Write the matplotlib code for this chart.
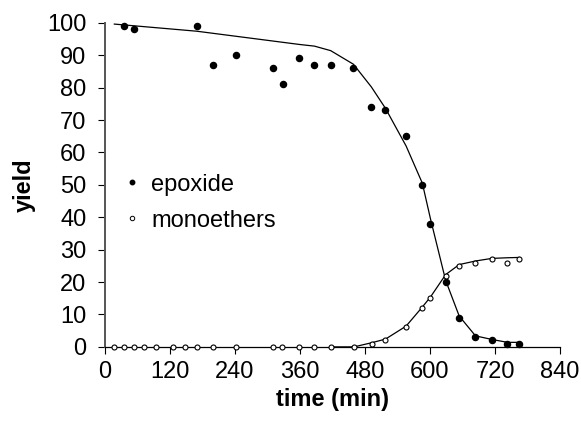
import matplotlib
matplotlib.use("Agg")
import matplotlib.pyplot as plt
from matplotlib.lines import Line2D

plt.rcParams['font.family'] = ['Liberation Sans', 'DejaVu Sans']

# measured data
epox_t = [36, 54, 170, 200, 243, 310, 329, 358, 387, 417, 459, 492, 518, 556, 586, 601, 629, 654, 684, 714, 743, 765]
epox_y = [99, 98, 99, 87, 90, 86, 81, 89, 87, 87, 86, 74, 73, 65, 50, 38, 20, 9, 3, 2, 1, 1]

mono_t = [18, 36, 54, 72, 94, 126, 148, 170, 200, 242, 310, 328, 358, 386, 418, 460,
          493, 518, 556, 586, 601, 629, 654, 684, 714, 743, 765]
mono_y = [0, 0, 0, 0, 0, 0, 0, 0, 0, 0, 0, 0, 0, 0, 0, 0,
          1, 2, 6, 12, 15, 22, 25, 26, 27, 26, 27]

# fitted curves
efit_t = [18, 170, 360, 387, 417, 459, 492, 518, 556, 586, 601, 629, 654, 684, 714, 743, 765]
efit_y = [99.6, 97.4, 93.3, 92.8, 91.4, 87.2, 80.2, 73.6, 62.0, 50.5, 39.5, 20.5, 9.5, 3.4, 2.3, 1.4, 1.4]

mfit_t = [418, 460, 493, 518, 556, 586, 601, 629, 654, 684, 714, 743, 765]
mfit_y = [0, 0, 1.3, 2.4, 6.4, 12.3, 15.4, 22.3, 25.4, 26.5, 27.3, 27.5, 27.6]

xticks = [0, 120, 240, 360, 480, 600, 720, 840]
yticks = [0, 10, 20, 30, 40, 50, 60, 70, 80, 90, 100]

fig = plt.figure(figsize=(5.81, 4.22), dpi=100)
ax = fig.add_axes([0.180, 0.178, 0.784, 0.768])

ax.plot(efit_t, efit_y, color='black', lw=0.9, clip_on=False, zorder=2)
ax.plot(mfit_t, mfit_y, color='black', lw=0.9, clip_on=False, zorder=2)
ax.plot(epox_t, epox_y, 'o', color='black', ms=4.4, clip_on=False, zorder=3)
ax.plot(mono_t, mono_y, 'o', mfc='white', mec='black', mew=0.8, ms=3.6, clip_on=False, zorder=3)

ax.set_xlim(0, 840)
ax.set_ylim(0, 100)
ax.set_xticks(xticks)
ax.set_yticks(yticks)
ax.tick_params(direction='out', length=5, width=0.8, labelsize=17)
ax.tick_params(axis='x', pad=5)
ax.tick_params(axis='y', pad=8)
for s in ['top', 'right']:
    ax.spines[s].set_visible(False)
ax.spines['left'].set_color('#555555')
ax.spines['left'].set_linewidth(1.4)
ax.spines['bottom'].set_linewidth(0.9)

ax.set_xlabel('time (min)', fontsize=17, fontweight='bold', labelpad=4)
ax.set_ylabel('yield', fontsize=17, fontweight='bold', labelpad=8)

handles = [Line2D([], [], ls='none', marker='o', color='black', ms=3.2),
           Line2D([], [], ls='none', marker='o', mfc='white', mec='black', mew=0.7, ms=3.2)]
ax.legend(handles, ['epoxide', 'monoethers'], loc='center left', bbox_to_anchor=(0.04, 0.445),
          frameon=False, fontsize=17, handlelength=0.8, handletextpad=0.4, labelspacing=0.6,
          borderpad=0, borderaxespad=0)

fig.savefig('out.png', dpi=100)
